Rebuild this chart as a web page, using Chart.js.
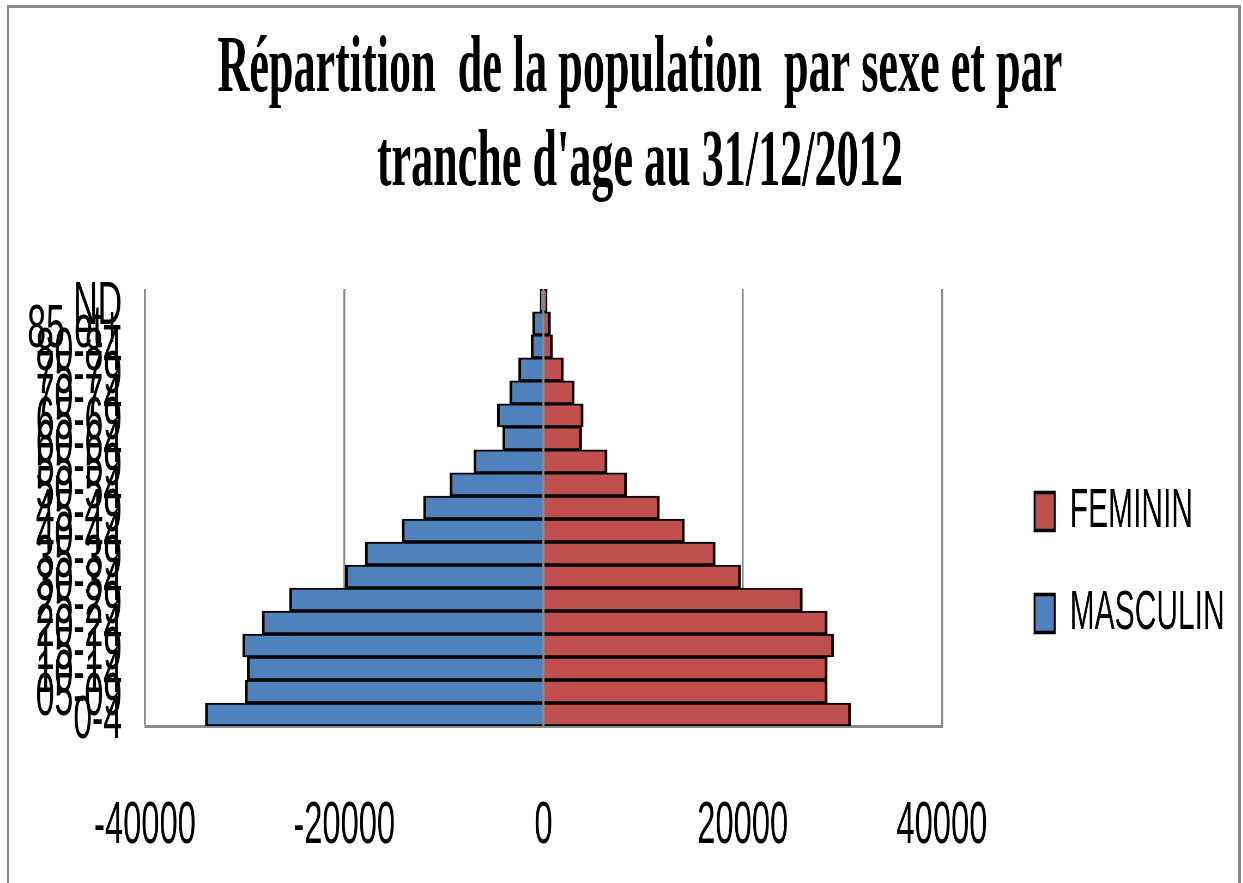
<!DOCTYPE html>
<html>
<head>
<meta charset="utf-8">
<script src="https://cdn.jsdelivr.net/npm/chart.js@4/dist/chart.umd.min.js"></script>
<style>
  html, body { margin: 0; padding: 0; background: #fff; overflow: hidden; }
  #wrap { position: relative; width: 1243px; height: 883px; }
  /* the original chart is a horizontally squeezed image, so draw wide and squeeze */
  #pyramid { position: absolute; left: 0; top: 0; transform: scaleX(0.545); transform-origin: 0 0; }
  #frame { position: absolute; left: 7px; top: 5px; width: 1229px; height: 900px;
           border-top: 3px solid #898989; border-left: 2px solid #8c8c8c; border-right: 3px solid #898989;
           pointer-events: none; }
</style>
</head>
<body>
<div id="wrap">
  <canvas id="pyramid" width="2281" height="883"></canvas>
  <div id="frame"></div>
</div>
<script>
const titleLines = ['Répartition  de la population  par sexe et par', "tranche d'age au 31/12/2012"];

const tranches = ['0-4', '05-09', '10-14', '15-19', '20-24', '25-29', '30-34', '35-39', '40-44',
                  '45-49', '50-54', '55-59', '60-64', '65-69', '70-74', '75-79', '80-84', '85 et+', 'ND'];

// hommes à gauche (valeurs négatives), femmes à droite
const masculin = [-33950, -29950, -29750, -30200, -28250, -25500, -19900, -17900, -14200,
                  -12050, -9400, -7000, -4100, -4650, -3400, -2500, -1250, -1100, -350];
const feminin = [30850, 28500, 28500, 29150, 28500, 26000, 19800, 17250, 14150,
                 11650, 8350, 6400, 3850, 4000, 3100, 2000, 920, 720, 380];

const xTickValues = [-40000, -20000, 0, 20000, 40000];

Chart.defaults.font.family = 'Liberation Sans';
Chart.defaults.color = '#000';

// vertical line at 0 drawn over the bars like the Excel axis
const zeroLine = {
  id: 'zeroLine',
  afterDatasetsDraw(chart) {
    const {ctx, chartArea, scales} = chart;
    const x0 = scales.x.getPixelForValue(0);
    ctx.save();
    ctx.strokeStyle = '#8a8a8a';
    ctx.lineWidth = 3.5;
    ctx.beginPath();
    ctx.moveTo(x0, chartArea.top);
    ctx.lineTo(x0, chartArea.bottom);
    ctx.stroke();
    ctx.restore();
  }
};

// move legend away from the plot and re-centre the title on the page
const nudge = {
  id: 'nudge',
  afterLayout(chart) {
    const lg = chart.legend;
    lg.left += 123; lg.right += 123;
    lg.top += 55; lg.bottom += 55;
    const t = chart.titleBlock;
    t.left += 92; t.right += 92;
  }
};

const border = {top: 2, bottom: 2, left: 5, right: 5};

new Chart(document.getElementById('pyramid'), {
  type: 'bar',
  data: {
    labels: tranches,
    datasets: [
      {
        label: 'FEMININ',
        data: feminin,
        backgroundColor: '#C0504D',
        borderColor: '#000',
        borderWidth: border,
        borderSkipped: 'start',
        categoryPercentage: 1,
        barPercentage: 1
      },
      {
        label: 'MASCULIN',
        data: masculin,
        backgroundColor: '#4F81BD',
        borderColor: '#000',
        borderWidth: border,
        borderSkipped: 'start',
        categoryPercentage: 1,
        barPercentage: 1
      }
    ]
  },
  options: {
    indexAxis: 'y',
    responsive: false,
    devicePixelRatio: 1,
    animation: false,
    layout: { padding: { left: 30, right: 147, top: 0, bottom: 0 } },
    plugins: {
      tooltip: { enabled: false },
      title: {
        display: true,
        text: titleLines,
        color: '#000',
        font: { family: 'Liberation Serif', size: 81, weight: 'bold', lineHeight: 1.16 },
        padding: { top: 23, bottom: 78 }
      },
      legend: {
        position: 'right',
        fullSize: false,
        align: 'center',
        labels: { boxWidth: 37, boxHeight: 38, padding: 47, color: '#000', font: { size: 55 } }
      }
    },
    scales: {
      x: {
        stacked: true,
        min: -40000,
        max: 40000,
        afterBuildTicks: s => { s.ticks = xTickValues.map(v => ({ value: v })); },
        ticks: { font: { size: 60 }, padding: 64, maxRotation: 0, autoSkip: false, callback: v => String(v) },
        grid: { color: '#8a8a8a', lineWidth: 3.5, drawTicks: false },
        border: { display: true, color: '#8a8a8a', width: 3 },
        afterFit: s => { s.height = 157; }
      },
      y: {
        stacked: true,
        reverse: true,
        ticks: { font: { size: 62 }, padding: 42, labelOffset: 6, autoSkip: false },
        grid: { display: false, drawTicks: false },
        border: { display: false },
        afterFit: s => { s.width = 236; }
      }
    }
  },
  plugins: [zeroLine, nudge]
});
</script>
</body>
</html>
